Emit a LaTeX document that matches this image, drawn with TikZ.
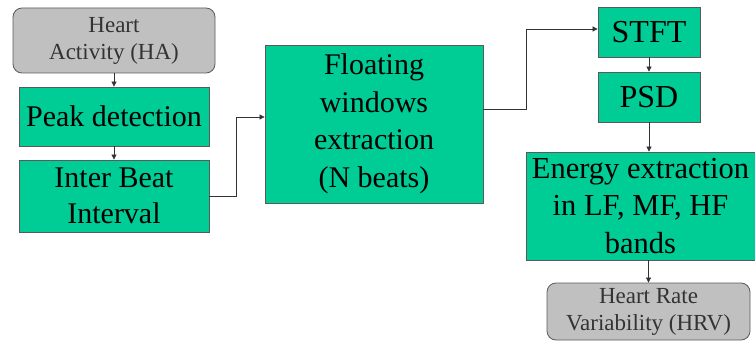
\documentclass[tikz,border=0pt]{standalone}
\usepackage{fontspec}
\setmainfont{Liberation Serif}
\usetikzlibrary{arrows.meta}
\definecolor{boxgreen}{RGB}{0,204,150}
\definecolor{boxgray}{RGB}{192,192,192}
\definecolor{edgegray}{RGB}{90,90,90}
\begin{document}
\begin{tikzpicture}[x=1pt,y=-1pt,
  greenbox/.style={draw=edgegray,line width=0.8pt,fill=boxgreen,inner sep=0pt,align=center,
    font=\fontsize{30}{36.5}\selectfont,text=black},
  graybox/.style={draw=edgegray,line width=0.8pt,fill=boxgray,rounded corners=9pt,inner sep=0pt,align=center,
    font=\fontsize{23}{27}\selectfont,text=black!80},
  conn/.style={draw=black!80,line width=0.7pt,-{Triangle[length=5pt,width=5pt]}}]
\useasboundingbox (0,0) rectangle (755,342);
\node[graybox,minimum width=202pt,minimum height=65pt] (ha) at (114,40.5) {Heart\\Activity (HA)};
\node[greenbox,minimum width=190pt,minimum height=59pt] (peak) at (114,116.5) {Peak detection};
\node[greenbox,minimum width=190pt,minimum height=72pt] (ibi) at (114,196) {Inter Beat\\Interval};
\node[greenbox,minimum width=218pt,minimum height=158pt,font=\fontsize{30}{37.5}\selectfont] (fw) at (374,124) {Floating\\windows\\extraction\\(N beats)};
\node[greenbox,minimum width=102pt,minimum height=50pt,font=\fontsize{32}{36}\selectfont] (stft) at (649,32) {STFT};
\node[greenbox,minimum width=102pt,minimum height=50pt,font=\fontsize{32}{36}\selectfont] (psd) at (649,97) {PSD};
\node[greenbox,minimum width=229pt,minimum height=108pt,font=\fontsize{30.5}{37.5}\selectfont] (en) at (640.5,206) {Energy extraction\\in LF, MF, HF\\bands};
\node[graybox,minimum width=203pt,minimum height=57pt] (hrv) at (648.5,311.5) {Heart Rate\\Variability (HRV)};
\draw[conn] (ha.south) -- (peak.north);
\draw[conn] (peak.south) -- (ibi.north);
\draw[conn] (ibi.east) -- ++(27,0) |- ([yshift=7pt]fw.west);
\draw[conn] ([yshift=15pt]fw.east) -- ++(43,0) |- ([yshift=3pt]stft.west);
\draw[conn] (stft.south) -- (psd.north);
\draw[conn] (psd.south) -- (psd.south |- en.north);
\draw[conn] (en.south -| hrv.north) -- (hrv.north);
\end{tikzpicture}
\end{document}
